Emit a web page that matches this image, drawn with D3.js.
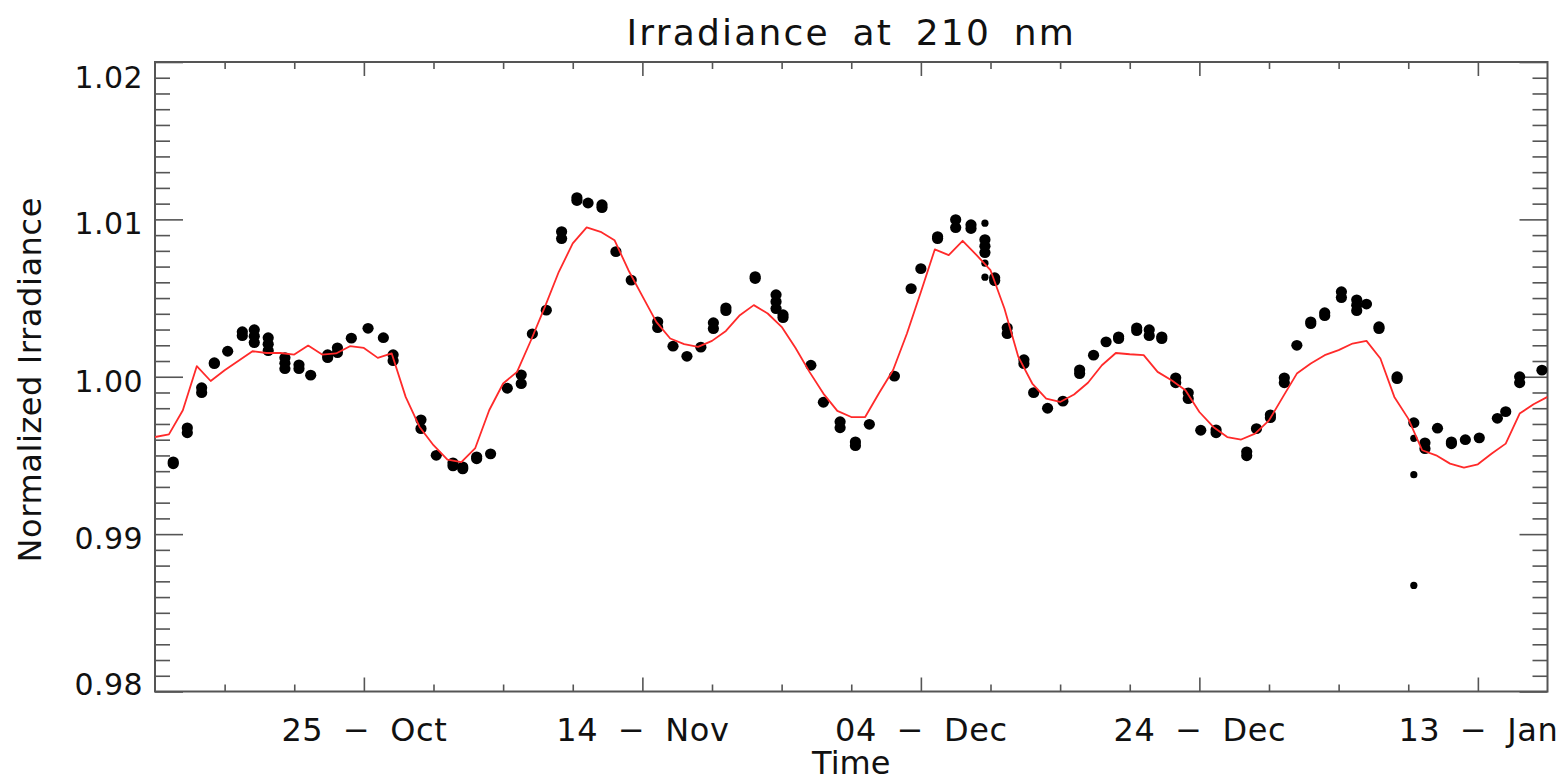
<!DOCTYPE html>
<html>
<head>
<meta charset="utf-8">
<script src="https://cdn.jsdelivr.net/npm/d3@7/dist/d3.min.js"></script>
<style>
  body { margin: 0; background: #fff; }
  svg { display: block; font-family: "DejaVu Sans", sans-serif; }
</style>
</head>
<body>
<svg id="chart" width="1561" height="783"></svg>
<script>
// ---- data -------------------------------------------------------------
const startDate = "2003-10-10";
const endDate = "2004-01-18";

const majorTickDates = ["2003-10-25", "2003-11-14", "2003-12-04", "2003-12-24", "2004-01-13"];
const minorTickDates = ["2003-10-15", "2003-10-20", "2003-10-30", "2003-11-04", "2003-11-09",
  "2003-11-19", "2003-11-24", "2003-11-29", "2003-12-09", "2003-12-14", "2003-12-19",
  "2003-12-29", "2004-01-03", "2004-01-08"];

const yMajorTicks = [0.98, 0.99, 1.00, 1.01, 1.02];

// daily model irradiance, one value per day from the start date
const modelValues = [
  0.99617, 0.99634, 0.99787, 1.00067, 0.99973, 1.00041, 1.00101, 1.00162, 1.00151, 1.00151,
  1.00141, 1.00198, 1.00141, 1.00148, 1.00194, 1.00183, 1.00120, 1.00148, 0.99872, 0.99681,
  0.99565, 0.99474, 0.99458, 0.99547, 0.99787, 0.99957, 1.00031, 1.00232, 1.00444, 1.00667,
  1.00847, 1.00949, 1.00921, 1.00868, 1.00677, 1.00512, 1.00349, 1.00243, 1.00207, 1.00190,
  1.00228, 1.00291, 1.00391, 1.00455, 1.00402, 1.00317, 1.00183, 1.00031, 0.99893, 0.99783,
  0.99744, 0.99744, 0.99897, 1.00041, 1.00275, 1.00539, 1.00809, 1.00773, 1.00864, 1.00773,
  1.00677, 1.00434, 1.00126, 0.99957, 0.99861, 0.99840, 0.99887, 0.99962, 1.00073, 1.00151,
  1.00143, 1.00137, 1.00031, 0.99978, 0.99914, 0.99776, 0.99681, 0.99617, 0.99601, 0.99639,
  0.99723, 0.99872, 1.00020, 1.00084, 1.00137, 1.00169, 1.00211, 1.00228, 1.00116, 0.99872,
  0.99734, 0.99533, 0.99501, 0.99448, 0.99423, 0.99444, 0.99512, 0.99575, 0.99766, 0.99825,
  0.99872
];

// measured irradiance: [days since start, normalized value]
const readings = [
  [1.31, 0.99459], [1.31, 0.99447],
  [2.32, 0.99675], [2.32, 0.99644],
  [3.35, 0.99930], [3.35, 0.99899],
  [4.26, 1.00089], [4.26, 1.00083],
  [5.22, 1.00162],
  [6.27, 1.00286], [6.27, 1.00261],
  [7.13, 1.00299], [7.13, 1.00258], [7.13, 1.00217],
  [8.13, 1.00248], [8.13, 1.00207], [8.13, 1.00166],
  [9.33, 1.00121], [9.33, 1.00086], [9.33, 1.00051],
  [10.34, 1.00076], [10.34, 1.00051],
  [11.18, 1.00010],
  [12.40, 1.00140], [12.40, 1.00121],
  [13.10, 1.00184], [13.10, 1.00153],
  [14.10, 1.00245],
  [15.30, 1.00308],
  [16.40, 1.00248],
  [17.10, 1.00140], [17.10, 1.00102],
  [19.10, 0.99726], [19.10, 0.99670],
  [20.20, 0.99501],
  [21.40, 0.99453], [21.40, 0.99434],
  [22.10, 0.99427], [22.10, 0.99415],
  [23.10, 0.99491], [23.10, 0.99479],
  [24.10, 0.99510],
  [25.30, 0.99927],
  [26.30, 1.00012], [26.30, 0.99956],
  [27.10, 1.00273],
  [28.10, 1.00423],
  [29.20, 1.00922], [29.20, 1.00878],
  [30.30, 1.01138], [30.30, 1.01120],
  [31.10, 1.01104],
  [32.10, 1.01093], [32.10, 1.01075],
  [33.10, 1.00795],
  [34.20, 1.00614],
  [36.10, 1.00349], [36.10, 1.00312],
  [37.20, 1.00194],
  [38.20, 1.00130],
  [39.20, 1.00188],
  [40.10, 1.00343], [40.10, 1.00306],
  [41.00, 1.00438], [41.00, 1.00420],
  [43.10, 1.00636], [43.10, 1.00624],
  [44.60, 1.00521], [44.60, 1.00477], [44.60, 1.00433],
  [45.10, 1.00394], [45.10, 1.00376],
  [47.10, 1.00073],
  [48.00, 0.99838],
  [49.20, 0.99714], [49.20, 0.99676],
  [50.30, 0.99586], [50.30, 0.99562],
  [51.30, 0.99698],
  [53.10, 1.00004],
  [54.30, 1.00560],
  [55.00, 1.00687],
  [56.20, 1.00890], [56.20, 1.00878],
  [57.50, 1.00998], [57.50, 1.00948],
  [58.60, 1.00966], [58.60, 1.00942],
  [59.60, 1.00871], [59.60, 1.00830], [59.60, 1.00789],
  [60.30, 1.00629], [60.30, 1.00611],
  [61.20, 1.00311], [61.20, 1.00274],
  [62.40, 1.00108], [62.40, 1.00083],
  [63.10, 0.99899],
  [64.10, 0.99800],
  [65.20, 0.99845],
  [66.40, 1.00044], [66.40, 1.00020],
  [67.40, 1.00137],
  [68.30, 1.00222],
  [69.20, 1.00254], [69.20, 1.00242],
  [70.50, 1.00311], [70.50, 1.00293],
  [71.40, 1.00299], [71.40, 1.00261],
  [72.30, 1.00254], [72.30, 1.00242],
  [73.30, 0.99993], [73.30, 0.99962],
  [74.20, 0.99898], [74.20, 0.99861],
  [75.10, 0.99660],
  [76.20, 0.99663], [76.20, 0.99644],
  [78.40, 0.99523], [78.40, 0.99498],
  [79.10, 0.99670],
  [80.10, 0.99758], [80.10, 0.99740],
  [81.10, 0.99993], [81.10, 0.99962],
  [82.00, 1.00200],
  [83.00, 1.00349], [83.00, 1.00337],
  [84.00, 1.00407], [84.00, 1.00388],
  [85.20, 1.00540], [85.20, 1.00503],
  [86.30, 1.00489], [86.30, 1.00455], [86.30, 1.00420],
  [87.00, 1.00462],
  [87.90, 1.00318], [87.90, 1.00306],
  [89.20, 1.00000], [89.20, 0.99988],
  [90.40, 0.99708],
  [91.20, 0.99580], [91.20, 0.99543],
  [92.10, 0.99673],
  [93.10, 0.99586], [93.10, 0.99574],
  [94.10, 0.99600],
  [95.10, 0.99612],
  [96.40, 0.99736],
  [97.00, 0.99778],
  [98.00, 1.00000], [98.00, 0.99962],
  [99.60, 1.00042]
];

// isolated single measurements
const singleReadings = [
  [59.60, 1.00976], [59.60, 1.00722], [59.60, 1.00633],
  [90.40, 0.99609], [90.40, 0.99378], [90.40, 0.98674]
];

// ---- layout -----------------------------------------------------------
const plot = { left: 155, right: 1547.5, top: 62, bottom: 691.5 };
const axisColor = "#555";

const svg = d3.select("#chart");
const parse = d3.utcParse("%Y-%m-%d");
const t0 = parse(startDate);
const dayToDate = d => new Date(t0.getTime() + d * 86400000);

const x = d3.scaleUtc()
  .domain([t0, parse(endDate)])
  .range([plot.left, plot.right]);

const y = d3.scaleLinear()
  .domain([0.98, 1.02])
  .range([plot.bottom, plot.top]);

const majorDates = majorTickDates.map(parse);
const minorDates = minorTickDates.map(parse);
const yMinor = d3.range(981, 1020).filter(v => v % 10 !== 0).map(v => v / 1000);

const fmtDay = d3.utcFormat("%d");
const fmtMon = d3.utcFormat("%b");
const dateLabel = d => fmtDay(d) + " \u2212 " + fmtMon(d);

function styleAxis(g) {
  g.select(".domain").remove();
  g.selectAll("line").attr("stroke", axisColor).attr("stroke-width", 1.6);
  g.selectAll("text").attr("fill", "#111");
}

// bottom axis (labelled) and top axis (ticks only), ticks pointing inward
svg.append("g")
  .attr("transform", `translate(0,${plot.bottom})`)
  .call(d3.axisBottom(x).tickValues(majorDates).tickSize(-14).tickSizeOuter(0)
    .tickPadding(27).tickFormat(dateLabel))
  .call(styleAxis)
  .call(g => g.selectAll("text")
    .attr("font-size", 32)
    .attr("font-family", "DejaVu Sans, sans-serif")
    .attr("letter-spacing", 0.6)
    .attr("word-spacing", 9));

svg.append("g")
  .attr("transform", `translate(0,${plot.bottom})`)
  .call(d3.axisBottom(x).tickValues(minorDates).tickSize(-7).tickSizeOuter(0).tickFormat(""))
  .call(styleAxis);

svg.append("g")
  .attr("transform", `translate(0,${plot.top})`)
  .call(d3.axisTop(x).tickValues(majorDates).tickSize(-14).tickSizeOuter(0).tickFormat(""))
  .call(styleAxis);

svg.append("g")
  .attr("transform", `translate(0,${plot.top})`)
  .call(d3.axisTop(x).tickValues(minorDates).tickSize(-7).tickSizeOuter(0).tickFormat(""))
  .call(styleAxis);

// left axis (labelled) and right axis (ticks only)
svg.append("g")
  .attr("transform", `translate(${plot.left},0)`)
  .call(d3.axisLeft(y).tickValues(yMajorTicks).tickSize(-28).tickSizeOuter(0)
    .tickPadding(12).tickFormat(d3.format(".2f")))
  .call(styleAxis)
  .call(g => g.selectAll("text")
    .attr("font-size", 30)
    .attr("font-family", "DejaVu Sans, sans-serif")
    .attr("letter-spacing", 0.4)
    .attr("dy", (d, i, n) => i === n.length - 1 ? "25.5px" : i === 0 ? "3px" : "14.4px"));

svg.append("g")
  .attr("transform", `translate(${plot.left},0)`)
  .call(d3.axisLeft(y).tickValues(yMinor).tickSize(-15).tickSizeOuter(0).tickFormat(""))
  .call(styleAxis);

svg.append("g")
  .attr("transform", `translate(${plot.right},0)`)
  .call(d3.axisRight(y).tickValues(yMajorTicks).tickSize(-28).tickSizeOuter(0).tickFormat(""))
  .call(styleAxis);

svg.append("g")
  .attr("transform", `translate(${plot.right},0)`)
  .call(d3.axisRight(y).tickValues(yMinor).tickSize(-15).tickSizeOuter(0).tickFormat(""))
  .call(styleAxis);

// plot frame
svg.append("rect")
  .attr("x", plot.left).attr("y", plot.top)
  .attr("width", plot.right - plot.left).attr("height", plot.bottom - plot.top)
  .attr("fill", "none").attr("stroke", axisColor).attr("stroke-width", 2);

// ---- marks ------------------------------------------------------------
svg.append("clipPath").attr("id", "plot-clip")
  .append("rect")
  .attr("x", plot.left).attr("y", plot.top)
  .attr("width", plot.right - plot.left).attr("height", plot.bottom - plot.top);

const marks = svg.append("g").attr("clip-path", "url(#plot-clip)");

marks.append("g")
  .selectAll("ellipse")
  .data(readings)
  .join("ellipse")
  .attr("cx", d => x(dayToDate(d[0])))
  .attr("cy", d => y(d[1]))
  .attr("rx", 5.6)
  .attr("ry", 5.4)
  .attr("fill", "#000");

marks.append("g")
  .selectAll("circle")
  .data(singleReadings)
  .join("circle")
  .attr("cx", d => x(dayToDate(d[0])))
  .attr("cy", d => y(d[1]))
  .attr("r", 3.6)
  .attr("fill", "#000");

const line = d3.line()
  .x((v, i) => x(dayToDate(i)))
  .y(v => y(v));

marks.append("path")
  .datum(modelValues)
  .attr("d", line)
  .attr("fill", "none")
  .attr("stroke", "#ff2a2a")
  .attr("stroke-width", 1.8)
  .attr("stroke-linejoin", "round");

// ---- titles -----------------------------------------------------------
svg.append("text")
  .attr("x", (plot.left + plot.right) / 2)
  .attr("y", 45)
  .attr("text-anchor", "middle")
  .attr("font-size", 36)
  .attr("letter-spacing", 2.2)
  .attr("word-spacing", 9)
  .attr("fill", "#111")
  .text("Irradiance at 210 nm");

svg.append("text")
  .attr("x", (plot.left + plot.right) / 2)
  .attr("y", 774)
  .attr("text-anchor", "middle")
  .attr("font-size", 32)
  .attr("fill", "#111")
  .text("Time");

svg.append("text")
  .attr("transform", `translate(41,${(plot.top + plot.bottom) / 2 + 3}) rotate(-90)`)
  .attr("text-anchor", "middle")
  .attr("font-size", 32)
  .attr("letter-spacing", 0.6)
  .attr("fill", "#111")
  .text("Normalized Irradiance");
</script>
</body>
</html>
